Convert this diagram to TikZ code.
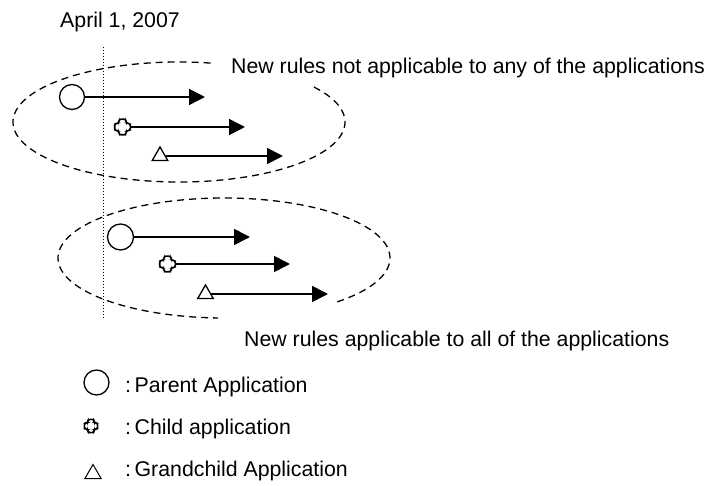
\documentclass[tikz,border=0pt]{standalone}
\usepackage{fontspec}
\setmainfont{Liberation Sans}
\usetikzlibrary{arrows.meta,shapes.geometric}
\tikzset{
  parentapp/.style={circle, draw, line width=1.3pt, fill=white, minimum size=25pt, inner sep=0pt},
  childapp/.style={minimum size=18pt, inner sep=0pt, outer sep=-1pt, fill=white, path picture={
    \draw[line width=1.6pt, rounded corners=2.2pt, shift={(path picture bounding box.center)}]
      (-3.6,-7.8) -- (3.6,-7.8) -- (3.6,-3.6) -- (7.8,-3.6) -- (7.8,3.6) -- (3.6,3.6)
      -- (3.6,7.8) -- (-3.6,7.8) -- (-3.6,3.6) -- (-7.8,3.6) -- (-7.8,-3.6) -- (-3.6,-3.6) -- cycle;}},
  grandapp/.style={regular polygon, regular polygon sides=3, draw, line width=1.3pt, fill=white, minimum size=18pt, inner sep=0pt},
  lifeline/.style={line width=1.6pt, -{Triangle[length=16pt,width=16pt]}},
  rulescope/.style={dash pattern=on 7pt off 5pt, line width=1.3pt},
  txt/.style={anchor=base west, inner sep=0pt, font=\fontsize{21.3}{25}\selectfont}
}

\begin{document}
\begin{tikzpicture}[x=1pt, y=-1pt]
			%%%%% START %%%%%
			\useasboundingbox (0,0) rectangle (713,486);
			
			\node[txt] (date) at (60,28) {April 1, 2007};
			\coordinate (cutoff top) at (103,47);
			\coordinate (cutoff bottom) at (103,319);
			\draw[dotted, line width=1pt] (cutoff top) -- (cutoff bottom);
			
			% not applicable
			\draw[rulescope] (179,122) ++(-79:166 and 60) arc (-79:-398:166 and 60);
			\node[txt] (notapp) at (231,74) {New rules not applicable to any of the applications};
			
			\node[parentapp] (pa) at (72,97) {};
			\node[childapp] (ca) at (122.5,127) {};
			\node[grandapp] (ga) at (160,156) {};
			\coordinate (pa end) at (205,97);
			\coordinate (ca end) at (245,127);
			\coordinate (ga end) at (283,156);
			\draw[lifeline] (pa) -- (pa end);
			\draw[lifeline] (ca) -- (ca end);
			\draw[lifeline] (ga) -- (ga end);
			
			% applicable
			\draw[rulescope] (224,258) ++(-313:166 and 60) arc (-313:-628:166 and 60);
			\node[txt] (allapp) at (244,347) {New rules applicable to all of the applications};
			
			\node[parentapp, minimum size=26pt] (pb) at (120.5,237) {};
			\node[childapp] (cb) at (167.5,264) {};
			\node[grandapp] (gb) at (205.5,294) {};
			\coordinate (pb end) at (250,237);
			\coordinate (cb end) at (290,264);
			\coordinate (gb end) at (328,294);
			\draw[lifeline] (pb) -- (pb end);
			\draw[lifeline] (cb) -- (cb end);
			\draw[lifeline] (gb) -- (gb end);
			
			% legend
			\node[parentapp] (key parent) at (96.5,382.5) {};
			\node[childapp, scale=0.85] (key child) at (91,426) {};
			\node[grandapp, line width=1pt, minimum size=19pt] (key grand) at (93,474) {};
			\node[txt] (parent txt) at (125,393) {:\,Parent Application};
			\node[txt] (child txt) at (125,435) {:\,Child application};
			\node[txt] (grand txt) at (125,477) {:\,Grandchild Application};
			
			%%%%% END %%%%%
\end{tikzpicture}
\end{document}
